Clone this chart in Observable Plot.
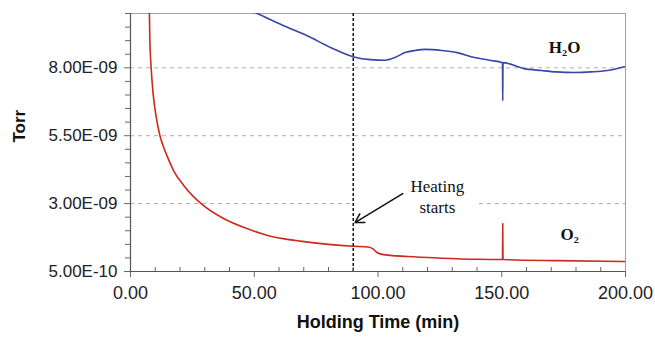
<!DOCTYPE html>
<html>
<head>
<meta charset="utf-8">
<script src="https://cdn.jsdelivr.net/npm/d3@7"></script>
<script src="https://cdn.jsdelivr.net/npm/@observablehq/plot@0.6"></script>
<style>
  html, body { margin: 0; padding: 0; background: #fff; }
</style>
</head>
<body>
<div id="chart"></div>
<script>
// Time (min) and pressure (Torr)
const h2oTime = [45, 51.2, 61.9, 71.4, 80.8, 90.2, 97, 102.8, 106.8, 110.9, 115, 119, 125.8, 132, 139, 145, 150.3, 150.4, 150.5, 159, 166, 172, 179.4, 186, 192.7, 199.6];
const h2oTorr = [1.025e-8, 1.0e-8, 9.55e-9, 9.18e-9, 8.75e-9, 8.4e-9, 8.3e-9, 8.28e-9, 8.38e-9, 8.56e-9, 8.64e-9, 8.68e-9, 8.64e-9, 8.56e-9, 8.38e-9, 8.28e-9, 8.19e-9, 6.79e-9, 8.19e-9, 7.97e-9, 7.9e-9, 7.85e-9, 7.83e-9, 7.85e-9, 7.9e-9, 8.04e-9];

const o2Time = [7.5, 7.64, 7.8, 8.35, 9.15, 10.4, 11.9, 13.5, 14.8, 17.5, 21.5, 28.9, 37.6, 47, 55.8, 61.7, 68.5, 80, 90, 96, 98, 99.6, 101.6, 112, 125.8, 140, 150.3, 150.4, 150.5, 172.6, 199.6];
const o2Torr = [1.08e-8, 1.0e-8, 9.12e-9, 8.0e-9, 7.04e-9, 6.18e-9, 5.5e-9, 5.05e-9, 4.75e-9, 4.2e-9, 3.67e-9, 2.97e-9, 2.45e-9, 2.08e-9, 1.82e-9, 1.71e-9, 1.62e-9, 1.5e-9, 1.43e-9, 1.4e-9, 1.33e-9, 1.2e-9, 1.13e-9, 1.05e-9, 0.99e-9, 0.95e-9, 0.94e-9, 2.27e-9, 0.94e-9, 0.9e-9, 0.87e-9];

const xTicks = [0, 50, 100, 150, 200];
const xMinorTicks = [10, 20, 30, 40, 60, 70, 80, 90, 110, 120, 130, 140, 160, 170, 180, 190];
const yTicks = [5e-10, 3e-9, 5.5e-9, 8e-9];
const yMinorTicks = [1e-9, 1.5e-9, 2e-9, 2.5e-9, 3.5e-9, 4e-9, 4.5e-9, 5e-9, 6e-9, 6.5e-9, 7e-9, 7.5e-9, 8.5e-9, 9e-9, 9.5e-9, 1e-8];
const gridSegments = [
  {y: 8e-9, x1: 0, x2: 200},
  {y: 5.5e-9, x1: 0, x2: 200},
  {y: 3e-9, x1: 0, x2: 90},
  {y: 3e-9, x1: 141, x2: 200}
];
const heatingTime = 90;
const arrowData = [{x1: 110, y1: 3.37e-9, x2: 90.7, y2: 2.3e-9}];
const annotations = [
  {x: 124, y: 3.28e-9, text: "Heating\nstarts"}
];
const seriesLabels = [
  {x: 175.4, y: 8.74e-9, text: "H₂O"},
  {x: 177.4, y: 1.86e-9, text: "O₂"}
];

const h2o = h2oTime.map((t, i) => ({t, v: h2oTorr[i]}));
const o2 = o2Time.map((t, i) => ({t, v: o2Torr[i]}));

function fmtE(d) {
  const [m, e] = d.toExponential(2).split("e");
  const sign = e[0] === "-" ? "-" : "+";
  const digits = e.replace(/^[-+]/, "").padStart(2, "0");
  return `${m}E${sign}${digits}`;
}

const sans = "Liberation Sans, Arial, sans-serif";
const serif = "Liberation Serif, Times New Roman, serif";

const chart = Plot.plot({
  width: 655,
  height: 339,
  marginLeft: 130,
  marginRight: 30,
  marginTop: 13,
  marginBottom: 68,
  style: {fontFamily: sans, background: "#fff"},
  x: {domain: [0, 200]},
  y: {domain: [5e-10, 1e-8]},
  marks: [
    Plot.ruleY(gridSegments, {y: "y", x1: "x1", x2: "x2", stroke: "#b0b0b0", strokeDasharray: "4,4", strokeWidth: 1}),
    Plot.frame({stroke: "#a0a0a0", strokeWidth: 1}),
    Plot.line(h2o, {x: "t", y: "v", stroke: "#3a45a8", strokeWidth: 1.6, curve: "monotone-x", clip: true}),
    Plot.line(o2, {x: "t", y: "v", stroke: "#cc2a1c", strokeWidth: 1.6, curve: "monotone-x", clip: true}),
    Plot.ruleX([heatingTime], {stroke: "#111", strokeWidth: 1.5, strokeDasharray: "3,2"}),
    Plot.text(annotations, {x: "x", y: "y", text: "text", fontFamily: serif, fontSize: 17, lineHeight: 1.2, fill: "#111"}),
    Plot.arrow(arrowData, {x1: "x1", y1: "y1", x2: "x2", y2: "y2", stroke: "#111", strokeWidth: 1.5, headLength: 10}),
    Plot.text(seriesLabels, {x: "x", y: "y", text: "text", fontFamily: serif, fontWeight: "bold", fontSize: 17, fill: "#111"}),
    Plot.axisY({ticks: yTicks, tickFormat: fmtE, tickSize: 6, tickPadding: 7, fontSize: 17, label: null, stroke: "#666", fill: "#222"}),
    Plot.axisY({ticks: yMinorTicks, tickFormat: () => "", tickSize: 5, label: null, stroke: "#666"}),
    Plot.axisX({ticks: xTicks, tickFormat: d => d.toFixed(2), tickSize: 6, tickPadding: 9, fontSize: 18, label: null, stroke: "#666", fill: "#222"}),
    Plot.axisX({ticks: xMinorTicks, tickFormat: () => "", tickSize: -4, label: null, stroke: "#666"}),
    Plot.ruleY([5e-10], {stroke: "#555", strokeWidth: 1.2}),
    Plot.ruleX([0], {stroke: "#555", strokeWidth: 1.2}),
    Plot.text(["Holding Time (min)"], {frameAnchor: "bottom", dy: 56, lineAnchor: "bottom", fontWeight: "bold", fontSize: 18, fill: "#111", fontFamily: sans}),
    Plot.text(["Torr"], {frameAnchor: "left", dx: -111, rotate: -90, fontWeight: "bold", fontSize: 17, fill: "#111", fontFamily: sans})
  ]
});
document.getElementById("chart").appendChild(chart);
</script>
</body>
</html>
